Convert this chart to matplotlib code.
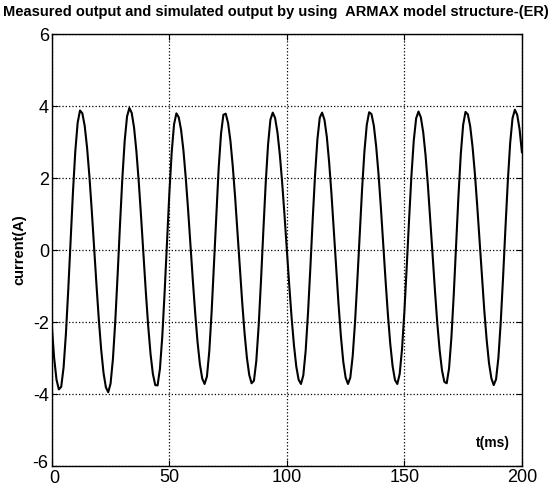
import matplotlib
matplotlib.use("Agg")
import matplotlib.pyplot as plt
import matplotlib.transforms as mtransforms

# time axis, one sample per ms
t_ms = list(range(0, 201))

# current(A), 1 ms apart
current = [
    -2.10, -3.00, -3.60, -3.87, -3.80, -3.27, -2.33, -1.10, 0.28, 1.61,
    2.75, 3.54, 3.88, 3.80, 3.45, 2.85, 2.05, 1.10, 0.07, -0.96,
    -1.93, -2.76, -3.41, -3.81, -3.95, -3.71, -3.03, -1.98, -0.69, 0.69,
    1.98, 3.03, 3.71, 3.95, 3.81, 3.40, 2.74, 1.89, 0.91, -0.13,
    -1.16, -2.10, -2.88, -3.44, -3.75, -3.76, -3.30, -2.40, -1.17, 0.21,
    1.57, 2.71, 3.49, 3.80, 3.69, 3.34, 2.77, 2.00, 1.11, 0.14,
    -0.84, -1.75, -2.55, -3.17, -3.57, -3.72, -3.51, -2.81, -1.71, -0.37,
    1.03, 2.29, 3.24, 3.76, 3.79, 3.53, 3.03, 2.32, 1.46, 0.49,
    -0.50, -1.45, -2.30, -2.99, -3.47, -3.70, -3.63, -3.08, -2.11, -0.85,
    0.54, 1.86, 2.93, 3.62, 3.82, 3.67, 3.27, 2.66, 1.88, 0.97,
    0.00, -0.96, -1.86, -2.63, -3.23, -3.60, -3.72, -3.48, -2.80, -1.75,
    -0.49, 0.86, 2.09, 3.08, 3.68, 3.82, 3.62, 3.15, 2.43, 1.54,
    0.53, -0.52, -1.52, -2.40, -3.10, -3.54, -3.72, -3.54, -2.95, -2.01,
    -0.83, 0.45, 1.69, 2.74, 3.48, 3.83, 3.78, 3.46, 2.88, 2.11,
    1.18, 0.16, -0.85, -1.80, -2.61, -3.23, -3.61, -3.72, -3.44, -2.75,
    -1.71, -0.46, 0.85, 2.07, 3.05, 3.66, 3.85, 3.69, 3.28, 2.64,
    1.81, 0.86, -0.13, -1.12, -2.03, -2.78, -3.34, -3.66, -3.70, -3.29,
    -2.43, -1.24, 0.14, 1.50, 2.67, 3.48, 3.84, 3.77, 3.44, 2.87,
    2.12, 1.22, 0.25, -0.74, -1.68, -2.49, -3.14, -3.56, -3.75, -3.59,
    -2.99, -1.99, -0.74, 0.62, 1.91, 2.97, 3.66, 3.90, 3.76, 3.36,
    2.72,
]

x_ticks = [0, 50, 100, 150, 200]
y_ticks = [-6, -4, -2, 0, 2, 4, 6]

plt.rcParams['font.family'] = ['Liberation Sans', 'DejaVu Sans']
plt.rcParams['axes.unicode_minus'] = False

fig = plt.figure(figsize=(5.57, 4.88), dpi=100)
ax = fig.add_axes([0.093, 0.045, 0.844, 0.885])

ax.plot(t_ms, current, color='black', linewidth=1.5)

ax.set_xlim(0, 200)
ax.set_ylim(-6, 6)
ax.set_xticks(x_ticks)
ax.set_yticks(y_ticks)
ax.tick_params(direction='in', length=4, labelsize=13, top=True, right=True,
               colors='black', pad=2)
ax.grid(True, color='black', linestyle=':', linewidth=0.9)
for s in ax.spines.values():
    s.set_linewidth(1.0)

# the bottom y label sits a little higher, as in the scan
lbl = ax.get_yticklabels()[0]
lbl.set_transform(lbl.get_transform() +
                  mtransforms.ScaledTranslation(-1 / 100, 5 / 100, fig.dpi_scale_trans))
xl = ax.get_xticklabels()[0]
xl.set_transform(xl.get_transform() +
                 mtransforms.ScaledTranslation(3 / 100, -1 / 100, fig.dpi_scale_trans))

ax.set_ylabel("current(A)", fontsize=10.5, fontweight='bold', labelpad=4)
ax.text(195, -5.35, "t(ms)", fontsize=10, fontweight='bold',
        ha='right', va='center')

fig.text(0.495, 0.975, "Measured output and simulated output by using  ARMAX model structure-(ER)",
         fontsize=10.5, fontweight='bold', ha='center', va='center')

fig.savefig("out.png", dpi=100)
